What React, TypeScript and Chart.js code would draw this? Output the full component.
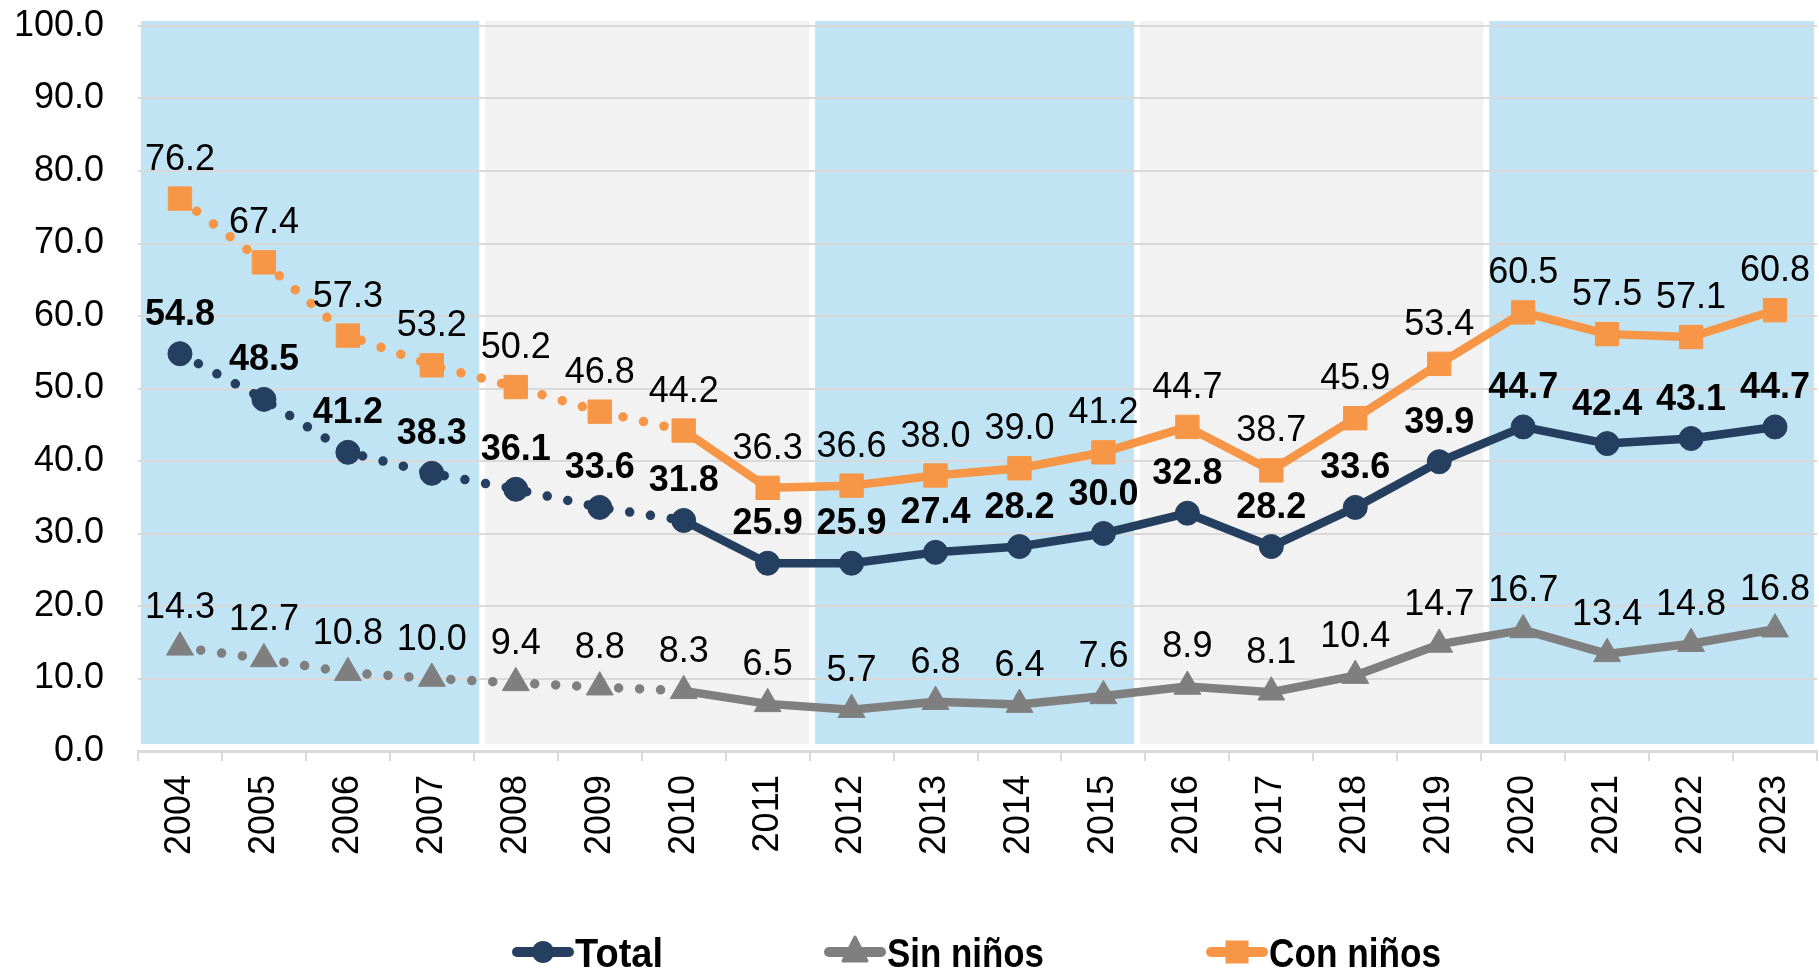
import React, { useEffect, useRef } from 'react';
import { Chart, registerables } from 'chart.js';

Chart.register(...registerables);

const years = ['2004', '2005', '2006', '2007', '2008', '2009', '2010', '2011', '2012', '2013', '2014', '2015', '2016', '2017', '2018', '2019', '2020', '2021', '2022', '2023'];
const total = [54.8, 48.5, 41.2, 38.3, 36.1, 33.6, 31.8, 25.9, 25.9, 27.4, 28.2, 30.0, 32.8, 28.2, 33.6, 39.9, 44.7, 42.4, 43.1, 44.7];
const sinNinos = [14.3, 12.7, 10.8, 10.0, 9.4, 8.8, 8.3, 6.5, 5.7, 6.8, 6.4, 7.6, 8.9, 8.1, 10.4, 14.7, 16.7, 13.4, 14.8, 16.8];
const conNinos = [76.2, 67.4, 57.3, 53.2, 50.2, 46.8, 44.2, 36.3, 36.6, 38.0, 39.0, 41.2, 44.7, 38.7, 45.9, 53.4, 60.5, 57.5, 57.1, 60.8];
const seriesNames = ['Total', 'Sin niños', 'Con niños'];
const yMin = 0;
const yMax = 100;
const yStep = 10;
// last index of the dotted (older methodology) part of each line
const lastDottedIndex = 6;
// band separators in category units, and band colours
const bandGaps = [4.1, 8.03, 11.9, 16.06];
const bandColors = ['#C1E4F4', '#F2F2F2', '#C1E4F4', '#F2F2F2', '#C1E4F4'];

const NAVY = '#243F60';
const GRAY = '#7F7F7F';
const ORANGE = '#F79646';
const FONT = "'Liberation Sans', Arial, sans-serif";

const bandsPlugin = {
  id: 'bands',
  beforeDraw(chart: any) {
    const { ctx } = chart;
    const x = chart.scales.x;
    const y = chart.scales.y;
    const cw = x.width / years.length;
    const top = y.getPixelForValue(yMax) - 5;
    const bottom = y.getPixelForValue(yMin) - 7;
    const edges = [x.left + 3];
    bandGaps.forEach((g) => edges.push(x.left + g * cw));
    edges.push(x.right - 3);
    ctx.save();
    for (let i = 0; i < bandColors.length; i++) {
      const l = i === 0 ? edges[0] : edges[i] + 3;
      const r = i === bandColors.length - 1 ? edges[i + 1] : edges[i + 1] - 3;
      ctx.fillStyle = bandColors[i];
      ctx.fillRect(l, top, r - l, bottom - top);
    }
    ctx.restore();
  },
};

const labelsPlugin = {
  id: 'valueLabels',
  afterDatasetsDraw(chart: any) {
    const { ctx } = chart;
    chart.data.datasets.forEach((ds: any, i: number) => {
      const meta = chart.getDatasetMeta(i);
      ctx.save();
      ctx.font = `${i === 0 ? 'bold ' : ''}36px ${FONT}`;
      ctx.fillStyle = '#000000';
      ctx.textAlign = 'center';
      ctx.textBaseline = 'alphabetic';
      meta.data.forEach((pt: any, j: number) => {
        ctx.fillText(Number(ds.data[j]).toFixed(1), pt.x, pt.y - 29);
      });
      ctx.restore();
    });
  },
};

const legendPlugin = {
  id: 'customLegend',
  afterDraw(chart: any) {
    const { ctx } = chart;
    const items = [
      { start: 513, color: NAVY, style: 'circle', width: 88 },
      { start: 825, color: GRAY, style: 'triangle', width: 157 },
      { start: 1207, color: ORANGE, style: 'square', width: 172 },
    ];
    const cy = 952;
    items.forEach((it, i) => {
      ctx.save();
      ctx.strokeStyle = it.color;
      ctx.fillStyle = it.color;
      ctx.lineWidth = 10;
      ctx.lineCap = 'round';
      ctx.beginPath();
      ctx.moveTo(it.start + 4, cy);
      ctx.lineTo(it.start + 56, cy);
      ctx.stroke();
      const mx = it.start + 30;
      ctx.beginPath();
      if (it.style === 'circle') {
        ctx.arc(mx, cy, 11, 0, Math.PI * 2);
        ctx.fill();
      } else if (it.style === 'triangle') {
        ctx.lineJoin = 'round';
        ctx.lineWidth = 3;
        ctx.moveTo(mx, cy - 15);
        ctx.lineTo(mx + 12, cy + 9);
        ctx.lineTo(mx - 12, cy + 9);
        ctx.closePath();
        ctx.fill();
        ctx.stroke();
      } else {
        ctx.fillRect(mx - 11.5, cy - 11.5, 23, 23);
      }
      ctx.font = `bold 40px 'Liberation Sans Narrow', ${FONT}`;
      ctx.fillStyle = '#000000';
      ctx.textBaseline = 'alphabetic';
      ctx.textAlign = 'left';
      const w = ctx.measureText(seriesNames[i]).width;
      const tx = it.start + 62;
      ctx.translate(tx, 967);
      ctx.scale(it.width / w, 1);
      ctx.fillText(seriesNames[i], 0, 0);
      ctx.restore();
    });
  },
};

function makeSegment(dotWidth: number, solidWidth: number) {
  return {
    borderDash: (c: any) => (c.p1DataIndex <= lastDottedIndex ? [0, 21] : []),
    borderWidth: (c: any) => (c.p1DataIndex <= lastDottedIndex ? dotWidth : solidWidth),
  };
}

export default function App() {
  const canvasRef = useRef<HTMLCanvasElement | null>(null);

  useEffect(() => {
    if (!canvasRef.current) return;
    Chart.defaults.font.family = FONT;
    const chart = new Chart(canvasRef.current, {
      type: 'line',
      data: {
        labels: years,
        datasets: [
          {
            label: seriesNames[0],
            data: total,
            borderColor: NAVY,
            backgroundColor: NAVY,
            pointBackgroundColor: NAVY,
            pointBorderColor: NAVY,
            pointStyle: 'circle',
            pointRadius: 12,
            pointBorderWidth: 1,
            borderWidth: 8.5,
            borderCapStyle: 'round',
            borderJoinStyle: 'round',
            segment: makeSegment(9.5, 8.5),
          },
          {
            label: seriesNames[1],
            data: sinNinos,
            borderColor: GRAY,
            backgroundColor: GRAY,
            pointBackgroundColor: GRAY,
            pointBorderColor: GRAY,
            pointStyle: 'triangle',
            pointRadius: 15.5,
            pointBorderWidth: 1,
            borderWidth: 8.5,
            borderCapStyle: 'round',
            borderJoinStyle: 'round',
            segment: makeSegment(9.5, 8.5),
          },
          {
            label: seriesNames[2],
            data: conNinos,
            borderColor: ORANGE,
            backgroundColor: ORANGE,
            pointBackgroundColor: ORANGE,
            pointBorderColor: ORANGE,
            pointStyle: 'rect',
            pointRadius: 16.5,
            pointBorderWidth: 1,
            borderWidth: 8.5,
            borderCapStyle: 'round',
            borderJoinStyle: 'round',
            segment: makeSegment(9.5, 8.5),
          },
        ],
      },
      options: {
        responsive: false,
        animation: false,
        maintainAspectRatio: false,
        layout: { autoPadding: false, padding: { top: 26, left: 0, right: 2, bottom: 0 } },
        plugins: {
          legend: { display: false },
          tooltip: { enabled: false },
        },
        scales: {
          x: {
            type: 'category',
            offset: true,
            afterFit: (s: any) => {
              s.height = 219;
              s.paddingLeft = 0;
              s.paddingRight = 0;
            },
            grid: {
              offset: true,
              drawOnChartArea: false,
              drawTicks: true,
              tickLength: 10,
              color: '#D9D9D9',
              lineWidth: 2,
            },
            border: { display: true, color: '#D9D9D9', width: 3 },
            ticks: {
              color: '#000000',
              font: { size: 36, family: FONT },
              maxRotation: 90,
              minRotation: 90,
              padding: 14,
              autoSkip: false,
            },
          },
          y: {
            min: yMin,
            max: yMax,
            afterFit: (s: any) => {
              s.width = 138;
              s.paddingTop = 0;
              s.paddingBottom = 0;
            },
            grid: { color: '#D9D9D9', lineWidth: 2, drawTicks: false },
            border: { display: false },
            ticks: {
              stepSize: yStep,
              color: '#000000',
              font: { size: 36, family: FONT },
              padding: 34,
              callback: (v: any) => Number(v).toFixed(1),
            },
          },
        },
      },
      plugins: [bandsPlugin, labelsPlugin, legendPlugin],
    });
    return () => chart.destroy();
  }, []);

  return (
    <div style={{ position: 'fixed', left: 0, top: 0, width: 1819, height: 970, background: '#ffffff' }}>
      <canvas ref={canvasRef} width={1819} height={970} style={{ width: 1819, height: 970, display: 'block' }} />
    </div>
  );
}
